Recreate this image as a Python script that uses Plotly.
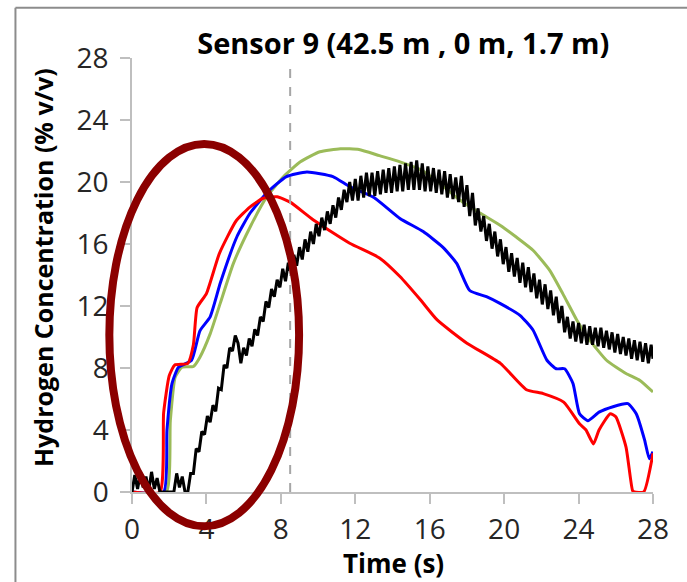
import plotly.graph_objects as go

# ---------------- data ----------------
red_t = [0, 1.5, 1.7, 2.0, 2.3, 3.0, 3.3, 3.5, 4.0, 4.7, 5.6, 6.35, 7.05, 7.8, 8.5, 9.75,
         11.7, 13.3, 14.4, 15.5, 16.4, 18.0, 19.8, 21.2, 22.1, 23.2, 24.05, 24.4, 24.8,
         25.1, 25.7, 26.0, 26.55, 26.9, 27.0, 27.5, 28.0]
red_v = [0, 0, 5.1, 7.5, 8.2, 8.3, 9.5, 11.9, 12.8, 15.4, 17.5, 18.4, 18.95, 19.05, 18.7, 17.55,
         16.05, 15.1, 13.9, 12.4, 11.1, 9.6, 8.3, 6.6, 6.35, 5.8, 4.4, 4.0, 3.1,
         4.0, 5.05, 4.85, 2.9, 0.1, 0, 0, 2.5]

blue_t = [0, 1.7, 1.88, 2.15, 2.5, 3.2, 3.65, 4.2, 4.75, 5.65, 6.35, 7.25, 8.3, 9.4, 10.8,
          11.7, 13.0, 14.4, 15.65, 16.7, 17.45, 18.15, 19.05, 19.8, 20.85, 21.55, 22.3,
          22.8, 23.25, 23.7, 24.05, 24.5, 25.1, 25.85, 26.65, 27.1, 27.55, 27.8, 28.0]
blue_v = [0, 0, 4.0, 7.0, 8.05, 8.5, 10.4, 11.3, 13.5, 16.5, 18.0, 19.3, 20.35, 20.65, 20.35,
          19.7, 19.0, 17.65, 16.8, 15.8, 14.75, 13.0, 12.6, 12.15, 11.4, 10.45, 8.5,
          7.95, 7.95, 7.0, 5.05, 4.6, 5.15, 5.5, 5.7, 5.05, 3.35, 2.15, 2.6]

green_t = [0, 1.84, 2.06, 2.32, 2.68, 3.3, 3.65, 4.2, 4.75, 5.45, 6.35, 7.25, 8.15, 9.05,
           10.1, 11.2, 12.2, 13.3, 14.4, 15.5, 16.55, 17.6, 18.7, 19.8, 20.65, 21.55,
           22.45, 23.15, 23.9, 24.6, 25.5, 26.55, 27.3, 28.0]
green_v = [0, 0, 4.6, 7.4, 8.05, 8.1, 8.7, 10.2, 12.2, 14.75, 17.1, 19.05, 20.35, 21.3,
           21.95, 22.15, 22.1, 21.7, 21.3, 20.8, 19.9, 18.85, 18.0, 17.2, 16.45, 15.6,
           14.3, 12.8, 11.1, 9.8, 8.5, 7.65, 7.2, 6.45]

# black (measured, noisy) series as (time, value) pairs
black_points = [
    (0.0, 0.0), (0.15, 1.1), (0.3, 0.2), (0.45, 1.2), (0.6, 0.3), (0.75, 1.0), (0.9, 0.1),
    (1.05, 1.3), (1.2, 0.2), (1.35, 0.9), (1.5, 0.0), (1.65, 0.0), (1.8, 0.0), (1.95, 0.0),
    (2.1, 0.0), (2.25, 0.0), (2.4, 1.2), (2.55, 0.3), (2.7, 1.0), (2.85, 0.0), (3.0, 0.0),
    (3.15, 1.2), (3.3, 1.2), (3.45, 2.8), (3.6, 2.6), (3.75, 3.9), (3.9, 3.7), (4.05, 4.9),
    (4.2, 4.5), (4.35, 5.6), (4.5, 5.2), (4.65, 6.7), (4.8, 6.6), (4.95, 8.2), (5.1, 8.0),
    (5.25, 9.3), (5.4, 9.1), (5.55, 10.1), (5.7, 9.6), (5.85, 8.3), (6.0, 9.3), (6.15, 8.8),
    (6.3, 9.9), (6.45, 9.4), (6.6, 10.5), (6.75, 10.1), (6.9, 11.3), (7.05, 11.0), (7.2, 12.3),
    (7.35, 11.9), (7.5, 13.1), (7.65, 12.6), (7.8, 13.7), (7.95, 13.2), (8.1, 14.4), (8.25, 13.6),
    (8.4, 14.8), (8.55, 14.1), (8.7, 15.3), (8.85, 14.6), (9.0, 15.8), (9.15, 15.0), (9.3, 16.3),
    (9.45, 15.5), (9.6, 16.8), (9.75, 16.0), (9.9, 17.3), (10.05, 16.5), (10.2, 17.7),
    (10.35, 16.9), (10.5, 18.1), (10.65, 17.3), (10.8, 18.5), (10.95, 17.7), (11.1, 19.0),
    (11.25, 18.2), (11.4, 19.5), (11.55, 18.7), (11.7, 20.0), (11.85, 18.8), (12.0, 20.2),
    (12.15, 18.8), (12.3, 20.4), (12.45, 19.0), (12.6, 20.6), (12.75, 19.1), (12.9, 20.6),
    (13.05, 19.1), (13.2, 20.7), (13.35, 19.2), (13.5, 20.8), (13.65, 19.3), (13.8, 20.9),
    (13.95, 19.3), (14.1, 21.0), (14.25, 19.4), (14.4, 21.1), (14.55, 19.4), (14.7, 21.2),
    (14.85, 19.5), (15.0, 21.3), (15.15, 19.5), (15.3, 21.4), (15.45, 19.5), (15.6, 21.2),
    (15.75, 19.4), (15.9, 21.0), (16.05, 19.4), (16.2, 20.9), (16.35, 19.3), (16.5, 20.8),
    (16.65, 19.2), (16.8, 20.7), (16.95, 19.0), (17.1, 20.5), (17.25, 18.9), (17.4, 20.3),
    (17.55, 18.7), (17.7, 20.4), (17.85, 18.4), (18.0, 19.8), (18.15, 17.8), (18.3, 19.3),
    (18.45, 17.2), (18.6, 18.3), (18.75, 16.8), (18.9, 17.8), (19.05, 16.2), (19.2, 17.3),
    (19.35, 15.7), (19.5, 16.8), (19.65, 15.2), (19.8, 16.3), (19.95, 14.7), (20.1, 15.8),
    (20.25, 14.2), (20.4, 15.4), (20.55, 13.9), (20.7, 15.1), (20.85, 13.5), (21.0, 14.8),
    (21.15, 13.2), (21.3, 14.5), (21.45, 12.9), (21.6, 14.1), (21.75, 12.5), (21.9, 13.7),
    (22.05, 12.1), (22.2, 13.4), (22.35, 11.8), (22.5, 13.0), (22.65, 11.4), (22.8, 12.6),
    (22.95, 10.9), (23.1, 12.0), (23.25, 10.3), (23.4, 11.3), (23.55, 9.9), (23.7, 11.0),
    (23.85, 9.7), (24.0, 10.9), (24.15, 9.6), (24.3, 10.8), (24.45, 9.5), (24.6, 10.7),
    (24.75, 9.5), (24.9, 10.6), (25.05, 9.4), (25.2, 10.6), (25.35, 9.3), (25.5, 10.4),
    (25.65, 9.2), (25.8, 10.3), (25.95, 9.0), (26.1, 10.2), (26.25, 8.9), (26.4, 10.0),
    (26.55, 8.8), (26.7, 9.9), (26.85, 8.6), (27.0, 9.8), (27.15, 8.5), (27.3, 9.7),
    (27.45, 8.4), (27.6, 9.6), (27.75, 8.3), (27.9, 9.5), (28.0, 8.6),
]
black_t = [p[0] for p in black_points]
black_v = [p[1] for p in black_points]

x_ticks = [0, 4, 8, 12, 16, 20, 24, 28]
y_ticks = [0, 4, 8, 12, 16, 20, 24, 28]
marker_time = 8.5

title_text = "Sensor 9 (42.5 m , 0 m, 1.7 m)"
x_title = "Time (s)"
y_title = "Hydrogen Concentration (% v/v)"

# ---------------- figure ----------------
FONT = "Open Sans"
fig = go.Figure()

fig.add_trace(go.Scatter(x=green_t, y=green_v, mode="lines",
                         line=dict(color="#9BBB59", width=3, shape="spline", smoothing=0.5),
                         showlegend=False))
fig.add_trace(go.Scatter(x=blue_t, y=blue_v, mode="lines",
                         line=dict(color="#0000FF", width=3, shape="spline", smoothing=0.5),
                         showlegend=False))
fig.add_trace(go.Scatter(x=red_t, y=red_v, mode="lines",
                         line=dict(color="#FF0000", width=3, shape="spline", smoothing=0.5),
                         showlegend=False))
fig.add_trace(go.Scatter(x=black_t, y=black_v, mode="lines",
                         line=dict(color="#000000", width=3),
                         showlegend=False))

axis_common = dict(
    range=[0, 28], tickmode="array", showgrid=False, zeroline=False,
    showline=True, linecolor="#BFBFBF", linewidth=1.5,
    ticks="outside", ticklen=10, tickcolor="#BFBFBF", tickwidth=1.5,
    tickfont=dict(family=FONT, size=28, color="#262626"),
)
fig.update_xaxes(tickvals=x_ticks, ticktext=[str(v) for v in x_ticks],
                 ticklabelstandoff=2, **axis_common)
fig.update_yaxes(tickvals=y_ticks, ticktext=[str(v) for v in y_ticks],
                 ticklabelstandoff=6, **axis_common)

# dashed marker line
fig.add_shape(type="line", xref="x", yref="y", x0=marker_time, x1=marker_time,
              y0=0, y1=27.8, line=dict(color="#A6A6A6", width=2, dash="dash"))

# highlight ellipse (paper coords so it may extend past the axes)
fig.add_shape(type="circle", xref="paper", yref="paper",
              x0=-0.0435, x1=0.3207, y0=-0.079, y1=0.802,
              line=dict(color="#8B0000", width=8), layer="above")

# frame lines of the picture
fig.add_shape(type="line", xref="paper", yref="paper", x0=-0.2237, x1=1.07,
              y0=1.116, y1=1.116, line=dict(color="#8C8C8C", width=2))
fig.add_shape(type="line", xref="paper", yref="paper", x0=-0.2237, x1=-0.2237,
              y0=1.116, y1=-0.22, line=dict(color="#8C8C8C", width=2))

fig.add_annotation(text=y_title, xref="paper", yref="paper", x=-0.172, y=0.517,
                   textangle=-90, showarrow=False, xanchor="center", yanchor="middle",
                   font=dict(family=FONT, size=25, color="#000000", weight="bold"))
fig.add_annotation(text=x_title, xref="paper", yref="paper", x=0.501, y=-0.1645,
                   showarrow=False, xanchor="center", yanchor="middle",
                   font=dict(family=FONT, size=26, color="#000000", weight="bold"))

fig.update_layout(
    width=687, height=582,
    margin=dict(l=132, r=34, t=58, b=90),
    paper_bgcolor="white", plot_bgcolor="white",
    title=dict(text=title_text, x=0.587, xref="container", xanchor="center",
               y=1 - 44 / 582, yref="container", yanchor="middle",
               font=dict(family=FONT, size=29, color="#000000", weight="bold")),
)

fig.write_html("out.html", config={"displayModeBar": False},
               post_script="document.body.style.margin='0';document.body.style.padding='0';")
